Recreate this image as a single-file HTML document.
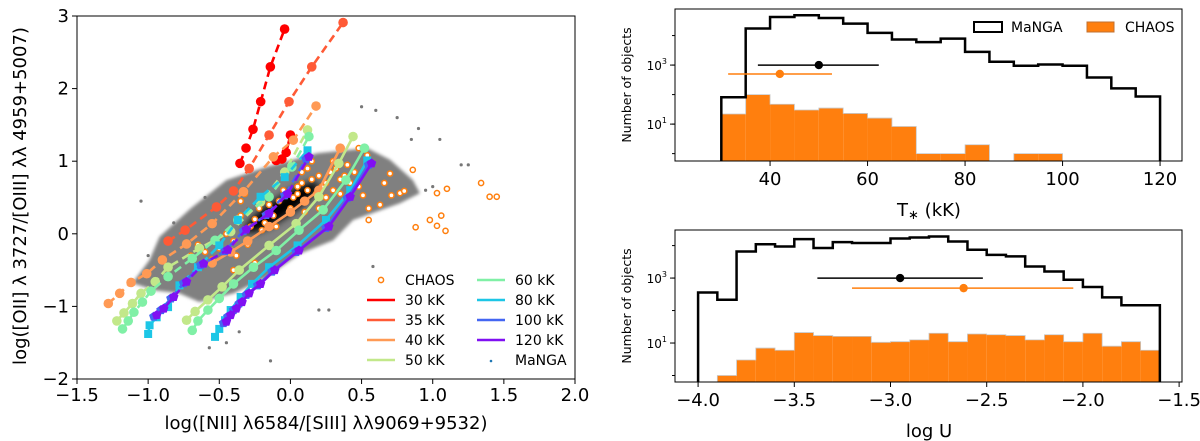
<!DOCTYPE html>
<html><head><meta charset="utf-8"><style>
body{margin:0;background:#fff}
svg{display:block;font-family:"DejaVu Sans","Liberation Sans",sans-serif}
</style></head><body>
<svg id="fig" width="1200" height="441" viewBox="0 0 1200 441" xmlns="http://www.w3.org/2000/svg">
<defs><filter id="blur" x="-50%" y="-50%" width="200%" height="200%"><feGaussianBlur stdDeviation="4"/></filter>
<filter id="soft" x="-10%" y="-10%" width="120%" height="120%"><feGaussianBlur stdDeviation="1.5"/></filter>
<clipPath id="clipL"><rect x="77" y="16" width="498" height="363"/></clipPath></defs>
<g id="left"></g>
<g id="top"></g>
<g id="bot"></g>
</svg>
<script>
// ---------- LEFT PANEL DATA ----------
const cloudX=[-0.92,-0.7,-0.45,-0.17,0.19,0.54,0.70,0.86,0.91,0.77,0.44,0.30,0.07,-0.17,-0.40,-0.64,-0.78,-0.95,-1.11,-0.99];
const cloudY=[-0.04,0.35,0.74,0.92,1.11,1.18,1.02,0.74,0.56,0.42,0.19,-0.09,-0.27,-0.60,-0.82,-0.94,-0.82,-0.78,-0.68,-0.36];
const outX=[-1.05,-0.82,-0.6,-0.45,0.2,0.5,0.6,0.75,0.85,0.9,1.05,1.2,1.25,0.58,0.27,-0.14,-0.57,-0.36,-0.3,-1.0,0.95,1.0];
const outY=[0.45,0.15,0.5,-1.5,-1.05,1.75,1.7,1.6,1.3,1.45,1.3,0.95,0.95,-0.45,-1.05,-1.75,-1.57,-1.35,0.35,-0.3,0.6,0.65];
const chaosX=[0.86,1.34,1.40,1.45,1.03,1.10,0.98,1.03,1.06,1.09,0.88,0.55,0.63,0.51,0.66,0.70,0.77,0.80,0.71,0.54,0.48,0.55,
-0.35,-0.3,-0.28,-0.25,-0.22,-0.2,-0.18,-0.15,-0.12,-0.1,-0.08,0.02,0.05,0.08,0.1,0.12,0.15,0.18,0.2,0.22,0.25,0.28,0.3,0.32,0.35,0.38,0.4,0.42,0.45,0.12,0.15,0.08,0.05,0.25,0.3,-0.4,-0.45,-0.5,-0.55,-0.6,-0.38,-0.3,-0.25,-0.4,-0.35,-0.32,-0.65,-0.7,0.0,0.1,0.2,-0.05,0.35,0.48];
const chaosY=[0.88,0.70,0.51,0.51,0.56,0.62,0.19,0.11,0.25,0.04,0.09,0.19,0.40,0.53,0.70,0.83,0.56,0.59,0.53,1.08,1.18,0.35,
0.25,0.3,0.1,0.2,0.35,0.05,0.15,0.4,0.25,0.1,0.45,0.5,0.55,0.7,0.45,0.6,0.75,0.55,0.8,0.65,0.7,0.85,0.6,0.9,0.75,0.8,0.95,0.7,0.85,0.9,1.0,0.85,0.65,0.5,1.0,-0.1,0.0,-0.2,-0.35,-0.25,-0.3,-0.15,-0.4,-0.5,0.45,0.55,-0.15,-0.3,0.35,0.3,0.35,0.6,0.55,0.65];
// model tracks
const m30dX=[-0.355,-0.312,-0.263,-0.209,-0.141,-0.041], m30dY=[0.97,1.18,1.44,1.82,2.30,2.82];
const m30sX=[-0.1,-0.06,-0.03,0.0], m30sY=[1.01,1.03,1.12,1.36];
const m35dX=[-0.86,-0.74,-0.52,-0.40,-0.29,-0.15,-0.01,0.15,0.37], m35dY=[-0.10,0.05,0.37,0.59,0.90,1.36,1.82,2.30,2.91];
const m40dX=[-1.28,-1.20,-1.12,-1.01,-0.90,-0.73,-0.55,-0.33,-0.12,0.02,0.18], m40dY=[-0.96,-0.82,-0.67,-0.55,-0.36,-0.14,0.14,0.58,1.06,1.29,1.76];
const m40sX=[-0.55,-0.42,-0.3,-0.15,0.0,0.1,0.2,0.35], m40sY=[-0.4,-0.25,-0.1,0.1,0.3,0.45,0.6,1.18];
const m50dX=[-1.22,-1.17,-1.11,-1.05,-0.95,-0.86,-0.64,-0.42,-0.21,-0.04,0.12], m50dY=[-1.2,-1.09,-0.96,-0.82,-0.66,-0.46,-0.20,0.03,0.44,0.85,1.43];
const m50sX=[-0.73,-0.67,-0.58,-0.48,-0.36,-0.15,0.04,0.20,0.34,0.44], m50sY=[-1.19,-1.07,-0.91,-0.73,-0.50,-0.16,0.14,0.51,0.97,1.34];
const m60dX=[-1.18,-1.14,-1.10,-1.04,-0.98,-0.86,-0.69,-0.53,-0.37,-0.15,0.01,0.13], m60dY=[-1.31,-1.2,-1.08,-0.94,-0.79,-0.59,-0.34,-0.09,0.19,0.51,0.92,1.34];
const m60sX=[-0.69,-0.65,-0.58,-0.50,-0.40,-0.26,-0.10,0.06,0.23,0.39,0.52], m60sY=[-1.33,-1.2,-1.05,-0.89,-0.69,-0.46,-0.23,0.05,0.33,0.74,1.18];
const m80dX=[-1.0,-0.99,-0.94,-0.86,-0.78,-0.65,-0.50,-0.37,-0.21,-0.04,0.12], m80dY=[-1.38,-1.26,-1.15,-1.01,-0.71,-0.46,-0.16,0.19,0.51,0.78,1.15];
const m80sX=[-0.53,-0.50,-0.46,-0.42,-0.35,-0.27,-0.15,0.05,0.25,0.42,0.54], m80sY=[-1.42,-1.31,-1.19,-1.05,-0.87,-0.69,-0.46,-0.16,0.19,0.60,1.01];
const m100dX=[-0.96,-0.91,-0.84,-0.75,-0.63,-0.46,-0.33,-0.17,-0.04,0.11], m100dY=[-1.14,-1.05,-0.89,-0.68,-0.43,-0.24,0.04,0.26,0.53,1.03];
const m100sX=[-0.47,-0.44,-0.40,-0.36,-0.31,-0.23,-0.13,0.04,0.25,0.40,0.55], m100sY=[-1.23,-1.14,-1.05,-0.96,-0.84,-0.71,-0.52,-0.25,0.08,0.49,0.95];
const m120dX=[-0.94,-0.89,-0.82,-0.73,-0.61,-0.44,-0.31,-0.15,-0.02,0.13], m120dY=[-1.12,-1.03,-0.87,-0.66,-0.41,-0.22,0.06,0.28,0.55,1.06];
const m120sX=[-0.45,-0.42,-0.38,-0.34,-0.29,-0.21,-0.11,0.06,0.27,0.42,0.57], m120sY=[-1.21,-1.12,-1.03,-0.94,-0.82,-0.69,-0.50,-0.23,0.10,0.51,0.97];
const xTicksL=[-1.5,-1.0,-0.5,0.0,0.5,1.0,1.5,2.0];
const yTicksL=[-2,-1,0,1,2,3];

// ---------- RIGHT PANEL DATA ----------
const tEdges=[30,35,40,45,50,55,60,65,70,75,80,85,90,95,100,105,110,115,120];
const tManga=[81,17400,42700,49000,39500,25300,12300,7350,6000,7900,2800,1300,950,1050,950,380,163,86];
const tChaos=[22,100,47,30,35,23,16,8.3,1,1,2,0,1,1,0,0,0,0];
const tErrManga=[50.0,37.5,62.3,1000];
const tErrChaos=[42.0,31.4,52.7,500];
const tTicks=[40,60,80,100,120];
const uEdges=[-4.0,-3.9,-3.8,-3.7,-3.6,-3.5,-3.4,-3.3,-3.2,-3.1,-3.0,-2.9,-2.8,-2.7,-2.6,-2.5,-2.4,-2.3,-2.2,-2.1,-2.0,-1.9,-1.8,-1.7,-1.6];
const uManga=[360,215,6600,11000,9400,15800,8400,12800,12000,12000,16600,17800,19100,13400,7450,5200,4650,2280,1600,890,530,255,145,145];
const uChaos=[0,1,3,7,6,21,17,16,16,10.5,11,12.5,20,11,19,18,17,12.5,18,11,20,8,11,6];
const uErrManga=[-2.95,-3.38,-2.52,1000];
const uErrChaos=[-2.62,-3.2,-2.05,490];
const uTicks=[-4.0,-3.5,-3.0,-2.5,-2.0,-1.5];

const NS='http://www.w3.org/2000/svg';
function mk(parent,tag,attrs,text){const e=document.createElementNS(NS,tag);for(const k in attrs)e.setAttribute(k,attrs[k]);if(text!==undefined)e.textContent=text;parent.appendChild(e);return e;}
const fmt=v=>(v<0?'\u2212':'')+Math.abs(v).toFixed(1);

// ---------- LEFT ----------
const L=document.getElementById('left');
const lx=v=>77+(v+1.5)*(498/3.5), ly=v=>16+(3-v)*(363/5);
const plot=mk(L,'g',{'clip-path':'url(#clipL)'});


const cloud=mk(plot,'polygon',{points:cloudX.map((x,i)=>lx(x)+','+ly(cloudY[i])).join(' '),fill:'#808080',filter:'url(#soft)'});


const core=mk(plot,'ellipse',{cx:lx(-0.06),cy:ly(0.36),rx:44,ry:10,fill:'#000',filter:'url(#blur)',transform:`rotate(-33 ${lx(-0.06)} ${ly(0.36)})`});


outX.forEach((x,i)=>{const c=mk(plot,'circle',{cx:lx(x),cy:ly(outY[i]),r:1.6,fill:'#777'});

});
chaosX.forEach((x,i)=>{const c=mk(plot,'circle',{cx:lx(x),cy:ly(chaosY[i]),r:2.6,fill:'#fff',stroke:'#ff7f0e','stroke-width':1.5});

});
const models=[
 [m30dX,m30dY,'#ff0000',true,'c','model-30kk-dashed'],[m30sX,m30sY,'#ff0000',false,'c','model-30kk-solid'],
 [m35dX,m35dY,'#ff5a36',true,'c','model-35kk-dashed'],
 [m40dX,m40dY,'#ff9a55',true,'c','model-40kk-dashed'],[m40sX,m40sY,'#ff9a55',false,'c','model-40kk-solid'],
 [m50dX,m50dY,'#c2e88a',true,'c','model-50kk-dashed'],[m50sX,m50sY,'#c2e88a',false,'c','model-50kk-solid'],
 [m60dX,m60dY,'#80f0a6',true,'c','model-60kk-dashed'],[m60sX,m60sY,'#80f0a6',false,'c','model-60kk-solid'],
 [m80dX,m80dY,'#1cc6e6',true,'s','model-80kk-dashed'],[m80sX,m80sY,'#1cc6e6',false,'s','model-80kk-solid'],
 [m100dX,m100dY,'#4466f2',true,'p','model-100kk-dashed'],[m100sX,m100sY,'#4466f2',false,'p','model-100kk-solid'],
 [m120dX,m120dY,'#8010f2',true,'p','model-120kk-dashed'],[m120sX,m120sY,'#8010f2',false,'p','model-120kk-solid']];
models.forEach(([xs,ys,col,dash,mark,name])=>{
 const g=mk(plot,'g',{});
 
 
 mk(g,'polyline',{points:xs.map((x,i)=>lx(x)+','+ly(ys[i])).join(' '),fill:'none',stroke:col,'stroke-width':2.6,'stroke-dasharray':dash?'8 5':'none'});
 xs.forEach((x,i)=>{const px=lx(x),py=ly(ys[i]);
  if(mark==='c')mk(g,'circle',{cx:px,cy:py,r:4.8,fill:col});
  else if(mark==='s')mk(g,'rect',{x:px-4,y:py-4,width:8,height:8,fill:col});
  else mk(g,'polygon',{points:[0,1,2,3,4].map(k=>{const a=-Math.PI/2+k*2*Math.PI/5;return (px+5*Math.cos(a))+','+(py+5*Math.sin(a));}).join(' '),fill:col});
 });
});
const fr=mk(L,'rect',{x:77,y:16,width:498,height:363,fill:'none',stroke:'#000','stroke-width':1});


xTicksL.forEach(v=>{mk(L,'line',{x1:lx(v),x2:lx(v),y1:379,y2:384,stroke:'#000'});
 const t=mk(L,'text',{x:lx(v),y:401,'font-size':18,'text-anchor':'middle'},fmt(v));
 
 });
yTicksL.forEach(v=>{mk(L,'line',{x1:72,x2:77,y1:ly(v),y2:ly(v),stroke:'#000'});
 const t=mk(L,'text',{x:69,y:ly(v)+6,'font-size':18,'text-anchor':'end'},(v<0?'\u2212':'')+Math.abs(v));
 
 });
const xl=mk(L,'text',{x:326,y:429,'font-size':18,'text-anchor':'middle'},'log([NII] \u03bb6584/[SIII] \u03bb\u03bb9069+9532)');


const yl=mk(L,'text',{x:0,y:0,'font-size':18,'text-anchor':'middle',transform:'translate(26,196) rotate(-90)'},'log([OII] \u03bb 3727/[OIII] \u03bb\u03bb 4959+5007)');


// legend
const lg=mk(L,'g',{'font-size':14});


const legItems=[['CHAOS','o',0,0],['30 kK','#ff0000',0,1],['35 kK','#ff5a36',0,2],['40 kK','#ff9a55',0,3],['50 kK','#c2e88a',0,4],
 ['60 kK','#80f0a6',1,0],['80 kK','#1cc6e6',1,1],['100 kK','#4466f2',1,2],['120 kK','#8010f2',1,3],['MaNGA','d',1,4]];
legItems.forEach(([lab,c,col,row])=>{const x0=col?477:367, y=280+row*20;
 const e=mk(lg,'g',{});
 
 
 if(c==='o')mk(e,'circle',{cx:x0+14,cy:y,r:2.6,fill:'#fff',stroke:'#ff7f0e','stroke-width':1.5});
 else if(c==='d')mk(e,'circle',{cx:x0+14,cy:y+1,r:1.3,fill:'#1f77b4'});
 else mk(e,'line',{x1:x0,x2:x0+28,y1:y,y2:y,stroke:c,'stroke-width':2.6});
 mk(e,'text',{x:x0+38,y:y+5},lab);});

// ---------- RIGHT PANELS ----------
function hist(G,edges,manga,chaos,errM,errC,ticks,xmin,xmax,top,bot,decTop,decBot,xlabel,tickFmt,withLegend){
 const X0=675,X1=1182;
 const sx=v=>X0+(v-xmin)/(xmax-xmin)*(X1-X0);
 const sy=v=>bot-(Math.log10(Math.max(v,1e-9))-decBot)/(decTop-decBot)*(bot-top);
 const clipId='c'+top;
 const cp=mk(G,'clipPath',{id:clipId});mk(cp,'rect',{x:X0,y:top,width:X1-X0,height:bot-top});
 const pg=mk(G,'g',{'clip-path':`url(#${clipId})`});
 chaos.forEach((v,i)=>{if(v<=0)return;const r=mk(pg,'rect',{x:sx(edges[i]),y:sy(v),width:sx(edges[i+1])-sx(edges[i]),height:bot+5-sy(v),fill:'#ff7f0e'});
  
  });
 let d='';
 chaos.forEach((v,i)=>{const y=v>0?sy(v):bot+5;d+=(i===0?`M${sx(edges[0])},${bot+5}L`:'L')+`${sx(edges[i])},${y}L${sx(edges[i+1])},${y}`;});
 d+=`L${sx(edges[edges.length-1])},${bot+5}`;
 mk(pg,'path',{d,fill:'none',stroke:'#c8c8c8','stroke-width':0.8});
 let dm=`M${sx(edges[0])},${bot+5}`;
 manga.forEach((v,i)=>{dm+=`L${sx(edges[i])},${sy(v)}L${sx(edges[i+1])},${sy(v)}`;});
 dm+=`L${sx(edges[edges.length-1])},${bot+5}`;
 const mp=mk(pg,'path',{d:dm,fill:'none',stroke:'#000','stroke-width':2.5});
 
 
 [[errM,'#000','manga-errorbar'],[errC,'#ff7f0e','chaos-errorbar']].forEach(([e,c,n])=>{const g=mk(G,'g',{});
  
  
  mk(g,'line',{x1:sx(e[1]),x2:sx(e[2]),y1:sy(e[3]),y2:sy(e[3]),stroke:c,'stroke-width':1.5});
  mk(g,'circle',{cx:sx(e[0]),cy:sy(e[3]),r:4.2,fill:c});});
 const f=mk(G,'rect',{x:X0,y:top,width:X1-X0,height:bot-top,fill:'none',stroke:'#000'});
 
 
 ticks.forEach(v=>{mk(G,'line',{x1:sx(v),x2:sx(v),y1:bot,y2:bot+5,stroke:'#000'});
  const t=mk(G,'text',{x:sx(v),y:bot+24,'font-size':18,'text-anchor':'middle'},tickFmt(v));
  
  });
 [1,3].forEach(p=>{const y=sy(Math.pow(10,p));mk(G,'line',{x1:X0-5,x2:X0,y1:y,y2:y,stroke:'#000'});
  const t=mk(G,'text',{x:X0-8,y:y+5,'font-size':12,'text-anchor':'end'});
  
  
  mk(t,'tspan',{},'10');mk(t,'tspan',{dy:-6,'font-size':8},String(p));});
 for(let p=Math.ceil(decBot);p<=decTop;p++){const y=sy(Math.pow(10,p));mk(G,'line',{x1:X0-3,x2:X0,y1:y,y2:y,stroke:'#000'});}
 const yt=mk(G,'text',{x:0,y:0,'font-size':12.5,'text-anchor':'middle',transform:`translate(631,${(top+bot)/2}) rotate(-90)`},'Number of objects');
 
 
 const xt=mk(G,'text',{x:929,y:bot+55,'font-size':18,'text-anchor':'middle'});
 
 
 if(xlabel==='T'){mk(xt,'tspan',{},'T');mk(xt,'tspan',{'font-size':13,dy:3},'\u2217');mk(xt,'tspan',{dy:-3},'  (kK)');}
 else xt.textContent=xlabel;
 if(withLegend){const lgd=mk(G,'g',{'font-size':14});
  
  
  const a=mk(lgd,'g',{});
  mk(a,'rect',{x:974,y:22,width:28,height:10,fill:'#fff',stroke:'#000','stroke-width':2});mk(a,'text',{x:1011,y:32},'MaNGA');
  const b=mk(lgd,'g',{});
  mk(b,'rect',{x:1087,y:22,width:27,height:10,fill:'#ff7f0e',stroke:'#c07030','stroke-width':1});mk(b,'text',{x:1125,y:32},'CHAOS');}
}
hist(document.getElementById('top'),tEdges,tManga,tChaos,tErrManga,tErrChaos,tTicks,20.5,124.5,9,161,4.9,-0.25,'T',v=>String(v),true);
hist(document.getElementById('bot'),uEdges,uManga,uChaos,uErrManga,uErrChaos,uTicks,-4.12,-1.485,230,382,4.48,-0.2,'log U',fmt,false);
</script>
</body></html>
